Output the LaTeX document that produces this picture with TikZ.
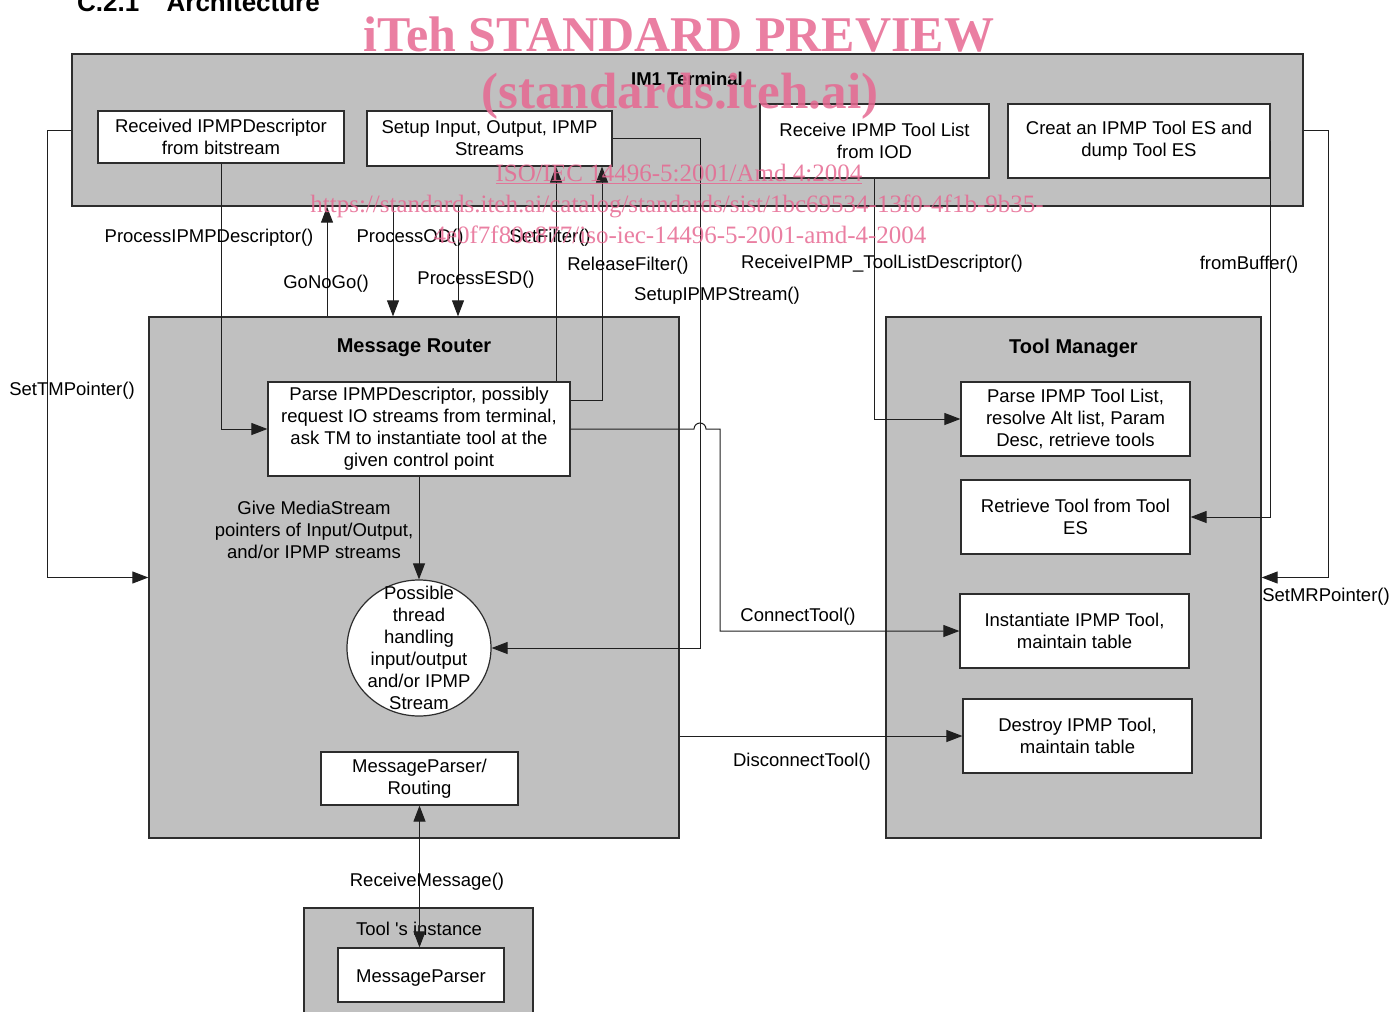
\documentclass[tikz,border=0pt]{standalone}
\usepackage{fontspec}
\setmainfont{Liberation Sans}
\newfontfamily\wmfont{Liberation Serif}
\usetikzlibrary{arrows.meta,shapes.geometric}
\definecolor{boxgray}{RGB}{192,192,192}
\definecolor{wmpink}{RGB}{230,105,146}
\definecolor{lineg}{RGB}{45,45,45}
\begin{document}
\begin{tikzpicture}[x=1pt,y=-1pt,
  every node/.style={font=\fontsize{18.5}{22}\selectfont, inner sep=0pt},
  cont/.style={draw=lineg, fill=boxgray, line width=1.3pt, anchor=center},
  box/.style={draw=lineg, fill=white, line width=1.2pt, align=center, anchor=center},
  lbl/.style={align=center},
  one/.style={yshift=-3pt},
  ttl/.style={font=\bfseries\fontsize{20}{24}\selectfont, yshift=-3pt},
  conn/.style={draw=black!88, line width=1pt},
  arr/.style={conn, -{Triangle[length=16pt,width=12pt]}},
  darr/.style={conn, {Triangle[length=16pt,width=12pt]}-{Triangle[length=16pt,width=12pt]}},
  wm/.style={text=wmpink, text opacity=0.85, anchor=base}
]
\useasboundingbox (0,0) rectangle (1390,1012);
\clip (0,0) rectangle (1390,1012);

% heading
\node[anchor=base west, font=\bfseries\fontsize{26}{30}\selectfont] (head) at (77,11.5) {C.2.1\hspace{1.05em}Architecture};

% containers
\node[cont, minimum width=1231, minimum height=152] (term) at (687.5,130) {};
\node[cont, minimum width=530, minimum height=521] (mr) at (414,577.5) {};
\node[cont, minimum width=375, minimum height=521] (tm) at (1073.5,577.5) {};
\node[cont, minimum width=229, minimum height=130] (ti) at (418.5,973) {};

\node[font=\bfseries\fontsize{18.5}{22}\selectfont, yshift=-0.5pt] (termt) at (687,78) {IM1 Terminal};
\node[ttl] (mrt) at (414,345) {Message Router};
\node[ttl] (tmt) at (1073.5,345) {Tool Manager};
\node[one] (tit) at (419,926) {Tool \textquotesingle s instance};

% boxes
\node[box, minimum width=246, minimum height=52] (recv) at (221,137) {Received IPMPDescriptor\\from bitstream};
\node[box, minimum width=245, minimum height=55] (setup) at (489.5,138.5) {Setup Input, Output, IPMP\\Streams};
\node[box, minimum width=229, minimum height=74] (rtl) at (874.5,141) {Receive IPMP Tool List\\from IOD};
\node[box, minimum width=262, minimum height=74] (ct) at (1139,141) {Creat an IPMP Tool ES and\\dump Tool ES};
\node[box, minimum width=302, minimum height=94] (parse) at (419,429) {Parse IPMPDescriptor, possibly\\request IO streams from terminal,\\ask TM to instantiate tool at the\\given control point};
\node[ellipse, draw=lineg, fill=white, line width=1.2pt, minimum width=144, minimum height=136] (ell) at (419,648) {};
\node[lbl] (ellt) at (419,648) {Possible\\thread\\handling\\input/output\\and/or IPMP\\Stream};
\node[box, minimum width=197, minimum height=53] (mpr) at (419.5,778.5) {MessageParser/\\Routing};
\node[box, minimum width=229, minimum height=74] (ptl) at (1075.5,419) {Parse IPMP Tool List,\\resolve Alt list, Param\\Desc, retrieve tools};
\node[box, minimum width=229, minimum height=74] (ret) at (1075.5,517) {Retrieve Tool from Tool\\ES};
\node[box, minimum width=229, minimum height=74] (inst) at (1074.5,631) {Instantiate IPMP Tool,\\maintain table};
\node[box, minimum width=229, minimum height=74] (dest) at (1077.5,736) {Destroy IPMP Tool,\\maintain table};
\node[box, minimum width=166, minimum height=54] (mp) at (421,975) {};
\node[one] (mpt) at (421,975) {MessageParser};

% helper coordinates
\coordinate (xgo) at (327,0);
\coordinate (xod) at (393,0);
\coordinate (xesd) at (458,0);
\coordinate (xsf) at (556,0);
\coordinate (xrf) at (602,0);
\coordinate (yrf) at (0,400);
\coordinate (xsu) at (700,0);
\coordinate (xhop) at (694,0);
\coordinate (xct) at (720,0);

% connectors
\draw[arr] (term.west) -- ++(-24,0) |- (mr.west);
\draw[arr] (term.east) -- ++(25,0) |- (tm.east);
\draw[arr] (recv.south) |- (parse.west);
\draw[arr] (xgo |- mr.north) -- (xgo |- term.south);
\draw[arr] (xod |- term.south) -- (xod |- mr.north);
\draw[arr] (xesd |- term.south) -- (xesd |- mr.north);
\draw[arr] (xsf |- parse.north) -- (xsf |- setup.south);
\draw[arr] (parse.east |- yrf) -| (xrf |- setup.south);
\draw[arr] (setup.east) -| (xsu |- ell.east) -- (ell.east);
\draw[arr] (parse.east) -- (xhop |- parse.east) arc[start angle=180, end angle=360, radius=6] -- (xct |- parse.east) |- (inst.west);
\draw[arr] (mr.east |- dest.west) -- (dest.west);
\draw[arr] (rtl.south) |- (ptl.west);
\draw[arr] (ct.east) |- (ret.east);
\draw[darr] (mpr.south) -- (mpr.south |- mp.north);
\draw[arr] (parse.south) -- (ell.north);

% connector labels
\node[one] (l1) at (72,388) {SetTMPointer()};
\node[one] (l2) at (209,235) {ProcessIPMPDescriptor()};
\node[one] (l3) at (326,281) {GoNoGo()};
\node[one] (l4) at (410,235) {ProcessOD()};
\node[one] (l5) at (476,277) {ProcessESD()};
\node[one] (l6) at (550,235) {SetFilter()};
\node[one] (l7) at (628,263) {ReleaseFilter()};
\node[one] (l8) at (717,293) {SetupIPMPStream()};
\node[one] (l9) at (882,261) {ReceiveIPMP\_ToolListDescriptor()};
\node[one] (l10) at (1249,262) {fromBuffer()};
\node[one] (l11) at (1326,594) {SetMRPointer()};
\node[one] (l12) at (798,614) {ConnectTool()};
\node[one] (l13) at (802,759) {DisconnectTool()};
\node[one] (l14) at (427,879) {ReceiveMessage()};
\node[lbl] (l15) at (314,530) {Give MediaStream\\pointers of Input/Output,\\and/or IPMP streams};

% watermark
\node[wm, font=\wmfont\bfseries\fontsize{50}{56}\selectfont] (w1) at (679,51) {iTeh STANDARD PREVIEW};
\node[wm, font=\wmfont\bfseries\fontsize{51}{56}\selectfont] (w2) at (680,108) {(standards.iteh.ai)};
\node[wm, font=\wmfont\fontsize{25}{30}\selectfont] (w3) at (679,181) {\underline{ISO/IEC 14496-5:2001/Amd 4:2004}};
\node[wm, font=\wmfont\fontsize{25}{30}\selectfont] (w4) at (677,212) {https://standards.iteh.ai/catalog/standards/sist/1bc69534-13f0-4f1b-9b35-};
\node[wm, font=\wmfont\fontsize{25}{30}\selectfont] (w5) at (680,243) {4e0f7f80e877/iso-iec-14496-5-2001-amd-4-2004};
\end{tikzpicture}
\end{document}
